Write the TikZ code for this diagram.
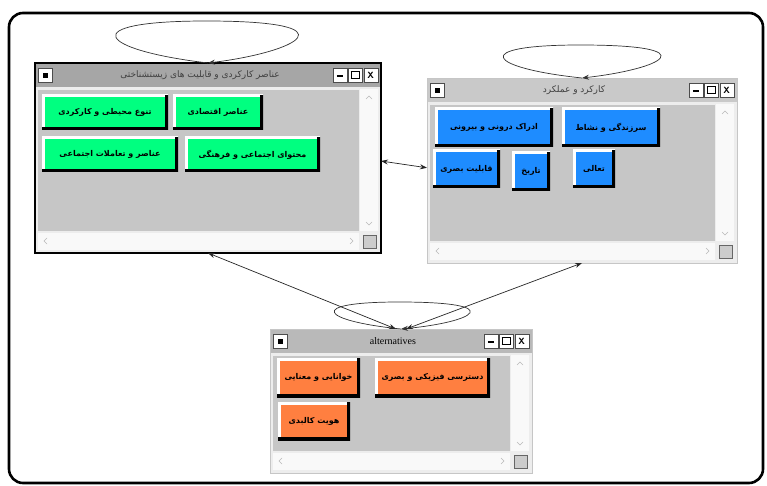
\documentclass[tikz,border=0pt]{standalone}
\usepackage{fontspec}
\newfontfamily\farsi[Script=Arabic]{DejaVu Sans}
\newfontfamily\wintimes{Liberation Serif}
\TeXXeTstate=1
\usetikzlibrary{calc, positioning, arrows.meta}

\definecolor{btngreen}{HTML}{00FF80}
\definecolor{btnblue}{HTML}{1E8CFF}
\definecolor{btnorange}{HTML}{FF7F40}
\definecolor{panegray}{HTML}{C6C6C6}
\definecolor{bodygray}{HTML}{EDEDED}
\definecolor{activebar}{HTML}{A6A6A6}
\definecolor{idlebar}{HTML}{C9C9C9}

\newcommand{\fatext}[1]{{\farsi\beginR #1\endR}}

\tikzset{
  winbox/.style={anchor=north west, fill=bodygray, inner sep=0, outer sep=0},
  pane/.style={fill=panegray},
  sbar/.style={fill=white!95!gray},
  grip/.style={draw=black!60, fill=gray!40, line width=0.5pt},
  chev/.style={draw=gray!55, line width=0.5pt},
  tbtn/.style={draw=black!70, fill=white, line width=0.5pt, minimum width=14pt, minimum height=14pt, inner sep=0, font=\sffamily\bfseries\small},
  wintitle/.style={font=\farsi\fontsize{9}{10}\selectfont, text=black!75},
  btn/.style={fill=#1, inner sep=1pt, font=\farsi\bfseries\fontsize{8}{9}\selectfont,
    path picture={
      \draw[white, line width=5pt] (path picture bounding box.south west) -- (path picture bounding box.north west) -- (path picture bounding box.north east);
      \draw[black, line width=6pt] (path picture bounding box.north east) -- (path picture bounding box.south east) -- (path picture bounding box.south west);
    }},
  link/.style={draw=black!85, line width=0.7pt, {Stealth[length=7pt,width=5pt]}-{Stealth[length=7pt,width=5pt]}},
  selfloop/.style={draw=black!80, line width=0.7pt, -{Stealth[length=7pt,width=5pt]}}
}

\newcommand{\appwin}[8][draw=gray!45, line width=0.6pt]{%
  \node[winbox, minimum width=#5pt, minimum height=#6pt] (#2) at (#3,#4) {};
  \fill[#8] (#2.north west) rectangle ($(#2.north east)+(0,24)$);
  \fill[pane] ($(#2.north west)+(3,27)$) rectangle ($(#2.south east)+(-22,-22)$);
  \fill[sbar] ($(#2.north east)+(-21,26)$) rectangle ($(#2.south east)+(-3,-22)$);
  \fill[sbar] ($(#2.south west)+(3,-20)$) rectangle ($(#2.south east)+(-22,-3)$);
  \draw[grip] ($(#2.south east)+(-18,-18)$) rectangle ($(#2.south east)+(-5,-5)$);
  \draw[chev] ($(#2.north east)+(-15,36)$) -- ++(3,-3) -- ++(3,3);
  \draw[chev] ($(#2.south east)+(-15,-31)$) -- ++(3,3) -- ++(3,-3);
  \draw[chev] ($(#2.south west)+(12,-15)$) -- ++(-3,3) -- ++(3,3);
  \draw[chev] ($(#2.south east)+(-31,-15)$) -- ++(3,3) -- ++(-3,3);
  \node[tbtn, anchor=north west] (#2-sys) at ($(#2.north west)+(3,5)$) {\rule{5pt}{5pt}};
  \node[tbtn, anchor=north east] (#2-close) at ($(#2.north east)+(-3,5)$) {X};
  \node[tbtn, left=1pt of #2-close] (#2-max) {{\fboxsep=0pt\fboxrule=1.2pt\fbox{\rule{0pt}{6pt}\hspace{7pt}}}};
  \node[tbtn, left=1pt of #2-max] (#2-min) {\raisebox{-4pt}{\rule{6pt}{1.8pt}}};
  \node[wintitle] (#2-title) at ($(#2.north)+(-8,12)$) {#7};
  \draw[#1] (#2.north west) rectangle (#2.south east);
}

\begin{document}
\begin{tikzpicture}[x=1pt, y=-1pt]
\useasboundingbox (0,0) rectangle (767,486);
\fill[white] (0,0) rectangle (767,486);
\draw[line width=2.6pt, rounded corners=14pt] (9,13) rectangle (763,483);

\appwin[draw=black, line width=1.8pt]{env}{35}{63}{346}{190}{\fatext{عناصر کارکردی و قابلیت های زیستشناختی}}{activebar}
\appwin{func}{427}{78}{310}{185}{\fatext{کارکرد و عملکرد}}{idlebar}
\appwin{alt}{270}{329}{262}{144}{{\wintimes\fontsize{10}{11}\selectfont\color{black} alternatives}}{idlebar!92!black}

\node[btn=btngreen, minimum width=126pt, minimum height=35pt] (g1) at (105,112.5) {\fatext{تنوع محیطی و کارکردی}};
\node[btn=btngreen, minimum width=90pt, minimum height=35pt] (g2) at (218,112.5) {\fatext{عناصر اقتصادی}};
\node[btn=btngreen, minimum width=136pt, minimum height=35pt] (g3) at (110,154.5) {\fatext{عناصر و تعاملات اجتماعی}};
\node[btn=btngreen, minimum width=135pt, minimum height=35pt] (g4) at (252.5,154.5) {\fatext{محتوای اجتماعی و فرهنگی}};

\node[btn=btnblue, minimum width=118pt, minimum height=39pt] (b1) at (494,127.5) {\fatext{ادراک درونی و بیرونی}};
\node[btn=btnblue, minimum width=98pt, minimum height=39pt] (b2) at (611,127.5) {\fatext{سرزندگی و نشاط}};
\node[btn=btnblue, minimum width=67pt, minimum height=38pt] (b3) at (466.5,169) {\fatext{قابلیت بصری}};
\node[btn=btnblue, minimum width=38pt, minimum height=39pt] (b4) at (531,171.5) {\fatext{تاریخ}};
\node[btn=btnblue, minimum width=42pt, minimum height=38pt] (b5) at (594,169) {\fatext{تعالی}};

\node[btn=btnorange, minimum width=83pt, minimum height=39pt] (o1) at (318.5,377.5) {\fatext{خوانایی و معنایی}};
\node[btn=btnorange, minimum width=115pt, minimum height=39pt] (o2) at (432.5,377.5) {\fatext{دسترسی فیزیکی و بصری}};
\node[btn=btnorange, minimum width=72pt, minimum height=38pt] (o3) at (314,421) {\fatext{هویت کالبدی}};

\draw[selfloop] (env.north) .. controls +(-110,-13) and +(-133,0) .. ($(env.north)+(-2,-42)$) .. controls +(150,0) and +(90,-11) .. (env.north);
\draw[selfloop] (func.north) .. controls +(-95,-10) and +(-112,0) .. ($(func.north)+(-2,-33)$) .. controls +(130,0) and +(80,-9) .. (func.north);
\draw[selfloop] (alt.north) .. controls +(-80,-8) and +(-95,0) .. ($(alt.north)+(-2,-27)$) .. controls +(110,0) and +(75,-7) .. (alt.north);

\draw[link] (env.-1) -- (func.179);
\draw[link] (env.south) -- (alt.94);
\draw[link] (func.south) -- (alt.86);
\end{tikzpicture}
\end{document}
